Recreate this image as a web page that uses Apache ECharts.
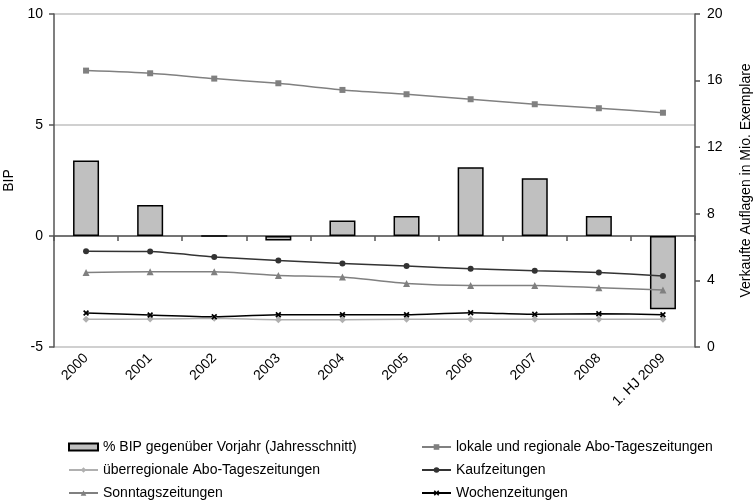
<!DOCTYPE html>
<html>
<head>
<meta charset="utf-8">
<script src="https://cdn.jsdelivr.net/npm/echarts@6/dist/echarts.min.js"></script>
<style>
  html, body { margin: 0; padding: 0; background: #fff; }
  #chart { width: 756px; height: 502px; }
</style>
</head>
<body>
<div id="chart"></div>
<script>
// Kategorien (x-Achse)
const categories = ['2000', '2001', '2002', '2003', '2004', '2005', '2006', '2007', '2008', '1. HJ 2009'];

// BIP-Veränderung in % (linke Achse)
const bipValues = [3.4, 1.4, 0.0, -0.2, 0.7, 0.9, 3.1, 2.6, 0.9, -3.3];

// Verkaufte Auflagen in Mio. (rechte Achse)
const lokaleValues = [16.6, 16.44, 16.12, 15.84, 15.44, 15.18, 14.88, 14.58, 14.34, 14.07];
const ueberregionalValues = [1.66, 1.68, 1.72, 1.64, 1.64, 1.66, 1.66, 1.66, 1.66, 1.66];
const kaufValues = [5.75, 5.73, 5.41, 5.2, 5.02, 4.86, 4.7, 4.58, 4.48, 4.26];
const sonntagValues = [4.48, 4.52, 4.52, 4.3, 4.2, 3.82, 3.7, 3.7, 3.56, 3.42];
const wochenValues = [2.04, 1.92, 1.82, 1.94, 1.94, 1.94, 2.06, 1.96, 2.0, 1.94];

const names = {
    bip: '% BIP gegenüber Vorjahr (Jahresschnitt)',
    lokal: 'lokale und regionale Abo-Tageszeitungen',
    ueber: 'überregionale Abo-Tageszeitungen',
    kauf: 'Kaufzeitungen',
    sonntag: 'Sonntagszeitungen',
    wochen: 'Wochenzeitungen'
};

// "x"-Marker als gefüllte Form
const crossSymbol = 'path://M2,0L5,3L8,0L10,2L7,5L10,8L8,10L5,7L2,10L0,8L3,5L0,2Z';

const FONT = 'Liberation Sans, Arial, sans-serif';
const chart = echarts.init(document.getElementById('chart'));

function lineSeries(name, data, color, symbol, size) {
    return {
        name: name,
        type: 'line',
        xAxisIndex: 0,
        yAxisIndex: 1,
        data: data,
        smooth: 0.2,
        symbol: symbol,
        symbolSize: size,
        showAllSymbol: true,
        lineStyle: { color: color, width: 1.5 },
        itemStyle: { color: color },
        emphasis: { disabled: true }
    };
}

const legendBase = {
    orient: 'vertical',
    height: 90,
    itemWidth: 29,
    itemHeight: 7,
    itemGap: 7,
    textStyle: { fontFamily: FONT, fontSize: 14, lineHeight: 16, color: '#000' }
};

const option = {
    animation: false,
    textStyle: { fontFamily: FONT },
    grid: { left: 54, right: 61, top: 14, bottom: 155, containLabel: false, outerBoundsMode: 'none' },
    legend: [
        Object.assign({ left: 63, top: 434, data: [{ name: names.bip, icon: 'rect' }, names.ueber, names.sonntag] }, legendBase),
        Object.assign({ left: 416, top: 434, data: [names.lokal, names.kauf, names.wochen] }, legendBase)
    ],
    xAxis: [
        {
            type: 'category',
            position: 'bottom',
            data: categories,
            axisLine: { show: false, onZero: false },
            axisTick: { show: false },
            axisLabel: { rotate: 45, interval: 0, fontSize: 14, color: '#000', margin: 9 }
        },
        {
            type: 'category',
            position: 'bottom',
            data: categories,
            axisLine: { show: true, onZero: true, onZeroAxisIndex: 0, lineStyle: { color: '#555', width: 1.5 } },
            axisTick: { show: true, interval: 0, length: 5, lineStyle: { color: '#555', width: 1.5 } },
            axisLabel: { show: false },
            splitLine: { show: false }
        }
    ],
    yAxis: [
        {
            type: 'value',
            position: 'left',
            min: -5,
            max: 10,
            interval: 5,
            name: 'BIP',
            nameLocation: 'middle',
            nameGap: 34,
            nameTextStyle: { fontSize: 14, color: '#000' },
            axisLine: { show: true, onZero: false, lineStyle: { color: '#555', width: 1.5 } },
            axisTick: { show: true, length: 5, lineStyle: { color: '#555', width: 1.5 } },
            axisLabel: { fontSize: 14, color: '#000', margin: 11 },
            splitLine: { show: true, lineStyle: { color: '#c0c0c0', width: 1.5 } }
        },
        {
            type: 'value',
            position: 'right',
            min: 0,
            max: 20,
            interval: 4,
            name: 'Verkaufte Auflagen in Mio. Exemplare',
            nameLocation: 'middle',
            nameGap: 44,
            nameTextStyle: { fontSize: 14, color: '#000' },
            axisLine: { show: true, onZero: false, lineStyle: { color: '#555', width: 1.5 } },
            axisTick: { show: true, length: 5, lineStyle: { color: '#555', width: 1.5 } },
            axisLabel: { fontSize: 14, color: '#000', margin: 12 },
            splitLine: { show: false }
        }
    ],
    series: [
        {
            name: names.bip,
            type: 'bar',
            xAxisIndex: 0,
            yAxisIndex: 0,
            data: bipValues,
            barWidth: 26,
            itemStyle: { color: '#c0c0c0', borderColor: '#000', borderWidth: 1.5 },
            emphasis: { disabled: true }
        },
        lineSeries(names.lokal, lokaleValues, '#808080', 'rect', 6),
        lineSeries(names.ueber, ueberregionalValues, '#b0b0b0', 'diamond', 7),
        lineSeries(names.kauf, kaufValues, '#333333', 'circle', 6),
        lineSeries(names.sonntag, sonntagValues, '#808080', 'triangle', 7),
        lineSeries(names.wochen, wochenValues, '#000000', crossSymbol, 6)
    ]
};

chart.setOption(option);
</script>
</body>
</html>
